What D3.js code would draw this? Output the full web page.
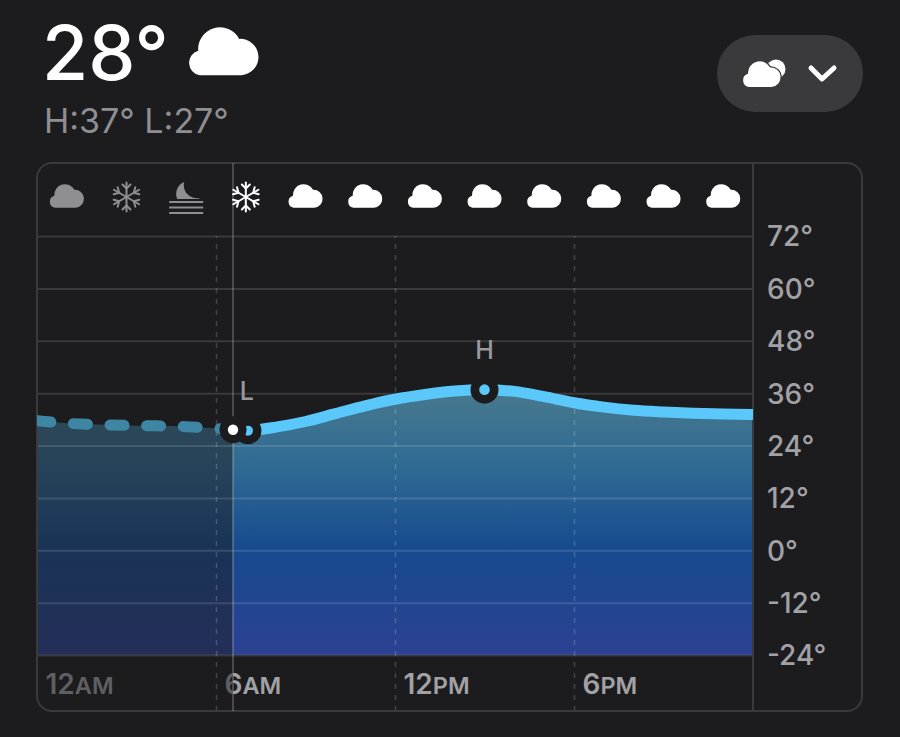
<!DOCTYPE html>
<meta charset="utf-8">
<style>
    html, body {
        margin: 0;
        padding: 0;
        background: #1c1c1e;
    }
    svg {
        display: block;
        font-family: Inter, "Noto Sans", sans-serif;
    }
    .axis path.domain { display: none; }
</style>
<body>
<script src="https://d3js.org/d3.v7.min.js"></script>
<script>
    // values
    var hours = [0, 1, 2, 3, 4, 5, 6, 6.57, 7.07, 8, 9, 10, 11, 12, 13, 14, 15, 16, 17, 18, 19, 20, 21, 22, 23, 24];
    var temps = [29.7, 29.1, 28.8, 28.6, 28.5, 28.3, 27.9, 27.6, 27.4, 28.2, 29.5, 31.3, 33.1, 34.6, 35.7, 36.5, 36.8, 36.4, 35.2, 33.8, 32.8, 32.1, 31.7, 31.4, 31.2, 31.1];
    var yTicks = [72, 60, 48, 36, 24, 12, 0, -12, -24];
    var xTicks = [0, 6, 12, 18];
    var xLabels = ["12AM", "6AM", "12PM", "6PM"];
    var iconHours = [1, 3, 5, 7, 9, 11, 13, 15, 17, 19, 21, 23];
    var iconNames = ["cloud", "snow", "fog", "snow", "cloud", "cloud", "cloud", "cloud", "cloud", "cloud", "cloud", "cloud"];
    var nowHour = 6.57, lowHour = 7.07, highHour = 15;
    var nowTemp = 27.6, lowTemp = 27.4, highTemp = 36.8;

    var width = 900, height = 737;
    var margin = {top: 236, right: 147, bottom: 82, left: 37};
    var bg = "#1c1c1e", blue = "#5ac8fa", gray = "#98989d", rule = "#3a3a3c";

    var svg = d3.select("body").append("svg")
        .attr("width", width)
        .attr("height", height);

    var x = d3.scaleLinear().domain([0, 24]).range([margin.left, width - margin.right]);
    var y = d3.scaleLinear().domain([72, -24]).range([margin.top, height - margin.bottom]);

    var cloudPath = "M38 146A38 38 0 0 1 34 72A66 66 0 0 1 158 36A55 55 0 0 1 165 146Z";

    var defs = svg.append("defs");
    var grad = defs.append("linearGradient")
        .attr("id", "fill")
        .attr("gradientUnits", "userSpaceOnUse")
        .attr("x1", 0).attr("x2", 0)
        .attr("y1", y(40)).attr("y2", y(-24));
    [[0, "#4c7c8c"], [0.33, "#2f6a94"], [0.62, "#174a8e"], [1, "#2c4192"]].forEach(function(s) {
        grad.append("stop").attr("offset", s[0]).attr("stop-color", s[1]);
    });
    defs.append("clipPath").attr("id", "past").append("rect")
        .attr("x", 0).attr("y", 0).attr("width", x(nowHour)).attr("height", height);
    defs.append("clipPath").attr("id", "future").append("rect")
        .attr("x", x(nowHour)).attr("y", 0).attr("width", width).attr("height", height);
    defs.append("clipPath").attr("id", "plot").append("rect")
        .attr("x", x(0)).attr("y", 0).attr("width", x(24) - x(0)).attr("height", height);

    // header
    svg.append("text").attr("x", 42).attr("y", 80)
        .attr("font-size", 75).attr("font-weight", 500).attr("fill", "#fff").text("28°");
    svg.append("path").attr("d", cloudPath)
        .attr("transform", "translate(187,27) scale(0.33)").attr("fill", "#fff");
    svg.append("text").attr("x", 44).attr("y", 133)
        .attr("font-size", 34).attr("fill", "#8e8e93").text("H:37° L:27°");

    // dropdown button
    svg.append("rect").attr("x", 717).attr("y", 35).attr("width", 146).attr("height", 77)
        .attr("rx", 38).attr("fill", rule);
    svg.append("circle").attr("cx", 776).attr("cy", 69).attr("r", 9.5).attr("fill", "#fff");
    svg.append("path").attr("d", cloudPath)
        .attr("transform", "translate(742,61) scale(0.178)")
        .attr("fill", "#fff").attr("stroke", rule).attr("stroke-width", 14).attr("paint-order", "stroke");
    svg.append("path").attr("d", "M811 68L822 79L834 68")
        .attr("fill", "none").attr("stroke", "#fff").attr("stroke-width", 5)
        .attr("stroke-linecap", "round").attr("stroke-linejoin", "round");

    // area under the curve
    var area = d3.area().x(function(d, i) { return x(hours[i]); })
        .y0(y(-24)).y1(function(d) { return y(d); })
        .curve(d3.curveCatmullRom);
    var line = d3.line().x(function(d, i) { return x(hours[i]); })
        .y(function(d) { return y(d); })
        .curve(d3.curveCatmullRom);

    svg.append("path").datum(temps).attr("d", area)
        .attr("fill", "url(#fill)").attr("clip-path", "url(#future)");
    svg.append("path").datum(temps).attr("d", area)
        .attr("fill", "url(#fill)").attr("opacity", 0.5).attr("clip-path", "url(#past)");

    // grid from axes
    svg.append("g").attr("class", "axis")
        .attr("transform", "translate(" + x(24) + ",0)")
        .call(d3.axisLeft(y).tickValues(yTicks).tickSize(x(24) - x(0)).tickFormat(""))
        .selectAll("line")
        .attr("stroke", "#fff").attr("stroke-opacity", 0.13).attr("stroke-width", 2);

    svg.append("g").attr("class", "axis")
        .attr("transform", "translate(0," + (height - 26) + ")")
        .call(d3.axisBottom(x).tickValues(xTicks.slice(1)).tickSize(-(height - 26 - margin.top)).tickFormat(""))
        .selectAll("line")
        .attr("stroke", "#fff").attr("stroke-opacity", 0.18).attr("stroke-width", 1.5)
        .attr("stroke-dasharray", "5 6");

    // frame, right rule, now rule
    svg.append("rect").attr("x", 37).attr("y", 163).attr("width", 825).attr("height", 548)
        .attr("rx", 15).attr("fill", "none").attr("stroke", rule).attr("stroke-width", 2);
    svg.append("line").attr("x1", x(24)).attr("x2", x(24)).attr("y1", 163).attr("y2", 711)
        .attr("stroke", rule).attr("stroke-width", 2);
    svg.append("line").attr("x1", x(nowHour)).attr("x2", x(nowHour)).attr("y1", 163).attr("y2", 711)
        .attr("stroke", "#fff").attr("stroke-opacity", 0.28).attr("stroke-width", 1.5);

    // temperature line
    var plotLine = svg.append("g").attr("clip-path", "url(#plot)");
    plotLine.append("g").attr("clip-path", "url(#past)").append("path").datum(temps)
        .attr("d", line).attr("fill", "none").attr("stroke", "#3f86a5")
        .attr("stroke-width", 11).attr("stroke-linecap", "round").attr("stroke-dasharray", "14 22.6");
    plotLine.append("g").attr("clip-path", "url(#future)").append("path").datum(temps)
        .attr("d", line).attr("fill", "none").attr("stroke", blue).attr("stroke-width", 11);

    // low, high and current markers
    function marker(hour, temp, r, dot, dotColor) {
        svg.append("circle").attr("cx", x(hour)).attr("cy", y(temp)).attr("r", r).attr("fill", bg);
        svg.append("circle").attr("cx", x(hour)).attr("cy", y(temp)).attr("r", dot).attr("fill", dotColor);
    }
    marker(lowHour, lowTemp, 13.5, 5, blue);
    marker(highHour, highTemp, 14, 5.3, blue);
    marker(nowHour, nowTemp, 13.5, 5.2, "#fff");

    svg.append("text").attr("x", x(lowHour) - 1).attr("y", 400).attr("text-anchor", "middle")
        .attr("font-size", 25).attr("font-weight", 500).attr("fill", gray).text("L");
    svg.append("text").attr("x", x(highHour)).attr("y", 359).attr("text-anchor", "middle")
        .attr("font-size", 25).attr("font-weight", 500).attr("fill", gray).text("H");

    // y axis labels
    var yAxis = svg.append("g").attr("class", "axis")
        .attr("transform", "translate(" + x(24) + ",1)")
        .call(d3.axisRight(y).tickValues(yTicks).tickSize(0).tickPadding(14)
            .tickFormat(function(d) { return d + "°"; }));
    yAxis.selectAll("text")
        .attr("font-family", "Inter").attr("font-size", 28).attr("font-weight", 500)
        .attr("fill", "#a1a1a6");

    // x axis labels, drawn twice so that the part before now is dimmed
    function xLabelAxis(clip, color) {
        var g = svg.append("g").attr("clip-path", clip).append("g").attr("class", "axis")
            .attr("transform", "translate(0,694)")
            .call(d3.axisBottom(x).tickValues(xTicks).tickSize(0).tickPadding(0).tickFormat(""));
        g.selectAll(".tick text").remove();
        g.selectAll(".tick").append("text")
            .attr("x", 8).attr("y", 0).attr("text-anchor", "start")
            .attr("font-family", "Inter").attr("font-weight", 600).attr("fill", color)
            .each(function(d, i) {
                var label = d3.select(this);
                var m = xLabels[i].match(/(\d+)(\w+)/);
                label.append("tspan").attr("font-size", 28).text(m[1]);
                label.append("tspan").attr("font-size", 23.5).text(m[2]);
            });
    }
    xLabelAxis("url(#past)", "#5f5f62");
    xLabelAxis("url(#future)", "#a1a1a6");

    // condition icons
    function drawIcon(g, name, color) {
        if (name == "cloud") {
            g.append("path").attr("d", cloudPath).attr("fill", color)
                .attr("transform", "translate(-18,-13) scale(0.162)");
        } else if (name == "snow") {
            d3.range(6).forEach(function(i) {
                var arm = g.append("g").attr("transform", "rotate(" + i * 60 + ")")
                    .attr("stroke", color).attr("stroke-width", 2).attr("fill", "none")
                    .attr("stroke-linecap", "round");
                arm.append("path").attr("d", "M0 0V-14.5");
                arm.append("path").attr("d", "M-4 -12.5L0 -8.5L4 -12.5");
            });
        } else {
            g.append("path")
                .attr("d", "M-9 2A13 13 0 0 1 -2 -15A13 13 0 0 0 13 1L13 2Z")
                .attr("fill", color);
            [5, 10.5, 16].forEach(function(dy) {
                g.append("line").attr("x1", -17).attr("x2", 17).attr("y1", dy).attr("y2", dy)
                    .attr("stroke", color).attr("stroke-width", 2.2);
            });
        }
    }
    iconHours.forEach(function(h, i) {
        var g = svg.append("g").attr("transform", "translate(" + x(h) + ",197)");
        drawIcon(g, iconNames[i], h < nowHour ? "#8e8e93" : "#fff");
    });
</script>
</body>
</html>
